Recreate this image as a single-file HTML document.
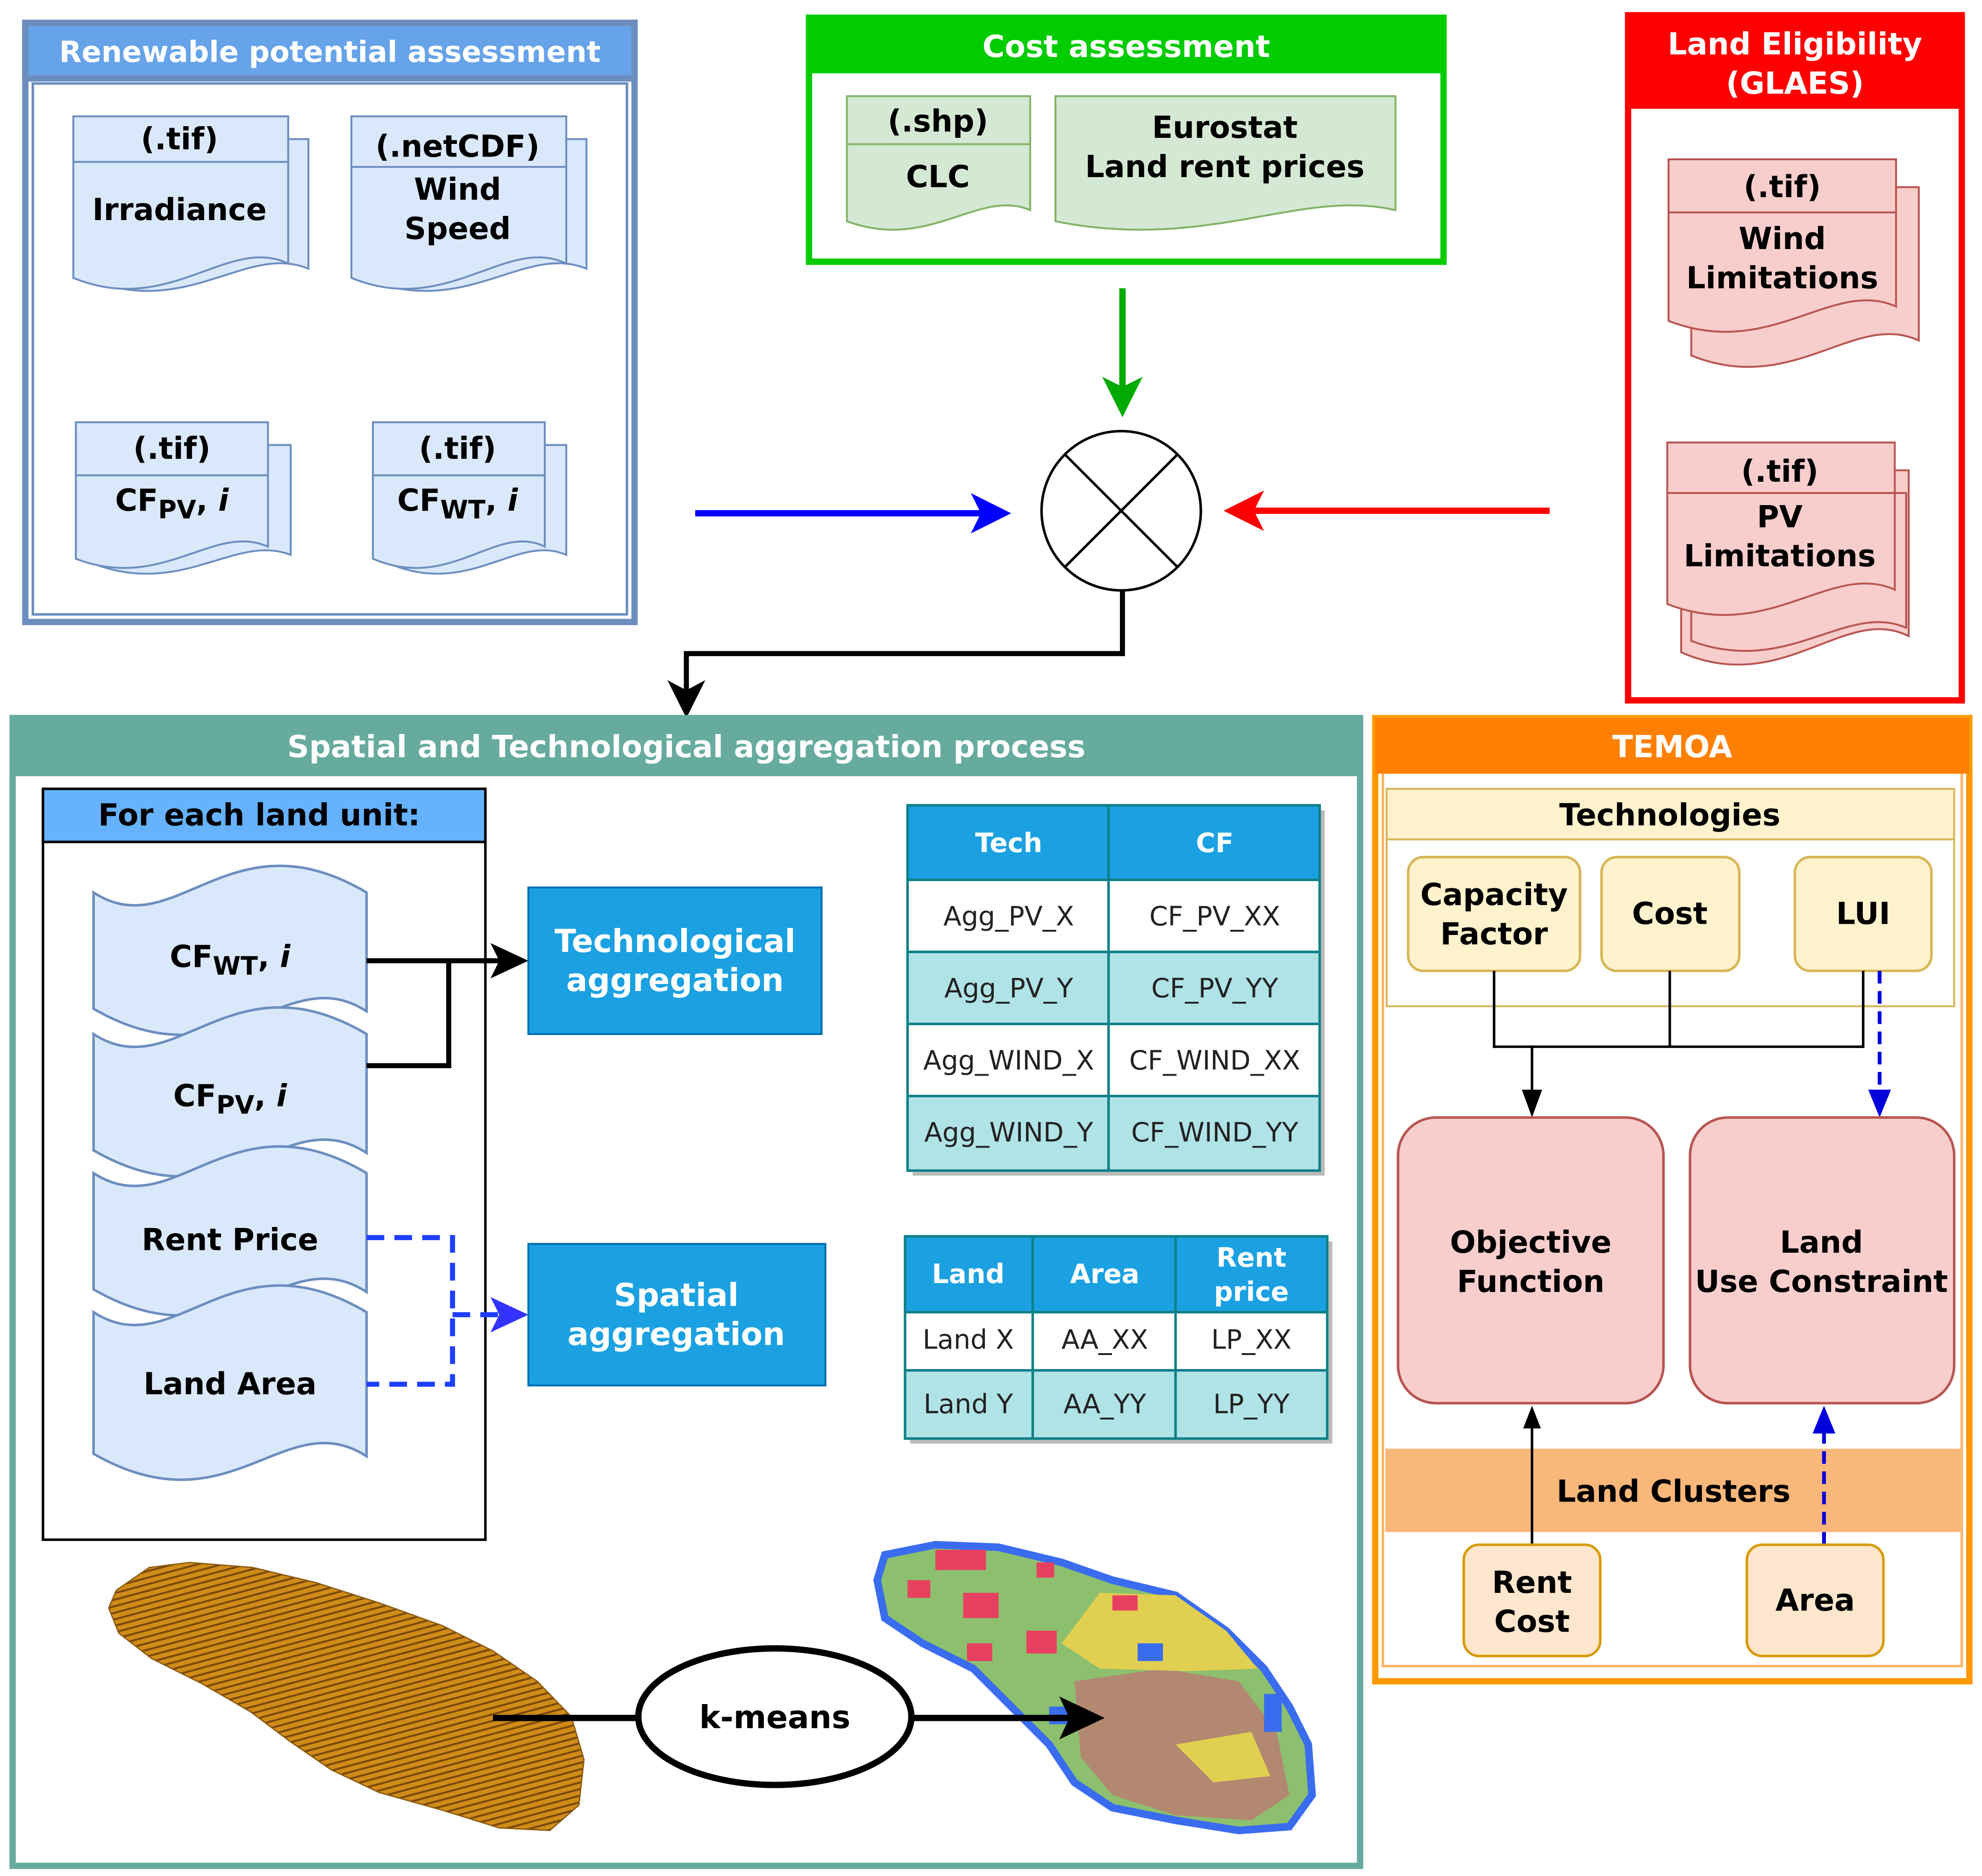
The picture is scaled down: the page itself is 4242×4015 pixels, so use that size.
<!DOCTYPE html>
<html><head><meta charset="utf-8">
<style>
html,body{margin:0;padding:0;background:#fff;}
svg{display:block;}
text{font-family:"DejaVu Sans","Liberation Sans",sans-serif;}
.b{font-weight:bold;}
</style></head>
<body>
<svg id="s" width="4242" height="4015" viewBox="0 0 1568 1484" xmlns="http://www.w3.org/2000/svg">
<defs>
<pattern id="hatch" width="5" height="5" patternUnits="userSpaceOnUse" patternTransform="rotate(75)">
<rect width="5" height="5" fill="#d08c18"/><rect width="1.6" height="5" fill="#7a4a08"/>
</pattern>
</defs>
<rect width="1568" height="1484" fill="#fff"/>

<!-- Renewable box -->
<rect x="20" y="18" width="482" height="474" fill="#fff" stroke="#6c8ebf" stroke-width="5"/>
<rect x="20" y="18" width="482" height="44" fill="#66a3e8" stroke="#6c8ebf" stroke-width="5"/>
<rect x="26" y="66" width="470" height="420" fill="#fff" stroke="#6c8ebf" stroke-width="2"/>
<text x="261" y="49" text-anchor="middle" class="b" font-size="23" fill="#fff">Renewable potential assessment</text>
<g id="docsB" fill="#dae8fc" stroke="#6c8ebf" stroke-width="1.5"></g>
<g font-size="24" class="b" text-anchor="middle" fill="#000">
<text x="142" y="118">(.tif)</text><text x="142" y="174">Irradiance</text>
<text x="362" y="124">(.netCDF)</text><text x="362" y="158">Wind</text><text x="362" y="189">Speed</text>
<text x="136" y="363">(.tif)</text><text x="136" y="404">CF<tspan font-size="20" dy="6">PV</tspan><tspan dy="-6">, </tspan><tspan font-style="italic">i</tspan></text>
<text x="362" y="363">(.tif)</text><text x="362" y="404">CF<tspan font-size="20" dy="6">WT</tspan><tspan dy="-6">, </tspan><tspan font-style="italic">i</tspan></text>
</g>

<!-- Cost box -->
<rect x="640" y="14" width="502" height="193" fill="#fff" stroke="#00cc00" stroke-width="5"/>
<rect x="640" y="14" width="502" height="44" fill="#00cc00"/>
<text x="891" y="45" text-anchor="middle" class="b" font-size="24" fill="#fff">Cost assessment</text>
<g id="docsG" fill="#d5e8d4" stroke="#82b366" stroke-width="1.5"></g>
<g font-size="24" class="b" text-anchor="middle">
<text x="742" y="104">(.shp)</text><text x="742" y="148">CLC</text>
<text x="969" y="109">Eurostat</text><text x="969" y="140">Land rent prices</text>
</g>

<!-- Land eligibility -->
<rect x="1288" y="12" width="264" height="542" fill="#fff" stroke="#ff0000" stroke-width="5"/>
<rect x="1288" y="12" width="264" height="74" fill="#ff0000"/>
<text x="1420" y="43" text-anchor="middle" class="b" font-size="24" fill="#fff">Land Eligibility</text>
<text x="1420" y="74" text-anchor="middle" class="b" font-size="24" fill="#fff">(GLAES)</text>
<g id="docsR" fill="#f8cecc" stroke="#b85450" stroke-width="1.5"></g>
<g font-size="24" class="b" text-anchor="middle">
<text x="1410" y="156">(.tif)</text><text x="1410" y="197">Wind</text><text x="1410" y="228">Limitations</text>
<text x="1408" y="381">(.tif)</text><text x="1408" y="417">PV</text><text x="1408" y="448">Limitations</text>
</g>

<!-- circle & arrows -->
<circle cx="887" cy="404" r="63" fill="#fff" stroke="#000" stroke-width="2"/>
<line x1="842" y1="359" x2="932" y2="449" stroke="#000" stroke-width="2"/>
<line x1="932" y1="359" x2="842" y2="449" stroke="#000" stroke-width="2"/>
<line x1="550" y1="406" x2="780" y2="406" stroke="#0000ff" stroke-width="5"/>
<path d="M768,390 L800,406 L768,422 L776,406Z" fill="#0000ff"/>
<line x1="1226" y1="404" x2="988" y2="404" stroke="#ff0000" stroke-width="5"/>
<path d="M1000,388 L968,404 L1000,420 L992,404Z" fill="#ff0000"/>
<line x1="888" y1="228" x2="888" y2="310" stroke="#00aa00" stroke-width="5"/>
<path d="M872,298 L888,330 L904,298 L888,306Z" fill="#00aa00"/>
<path d="M888,467 V517 H543 V548" fill="none" stroke="#000" stroke-width="4"/>
<path d="M528,538 L543,568 L558,538 L543,546Z" fill="#000"/>

<!-- Spatial & Tech box -->
<rect x="10" y="568" width="1066" height="908" fill="#fff" stroke="#67ab9f" stroke-width="5"/>
<rect x="10" y="568" width="1066" height="46" fill="#67ab9f"/>
<text x="543" y="599" text-anchor="middle" class="b" font-size="24" fill="#fff">Spatial and Technological aggregation process</text>
<rect x="34" y="624" width="350" height="594" fill="#fff" stroke="#000" stroke-width="2"/>
<rect x="34" y="624" width="350" height="42" fill="#66b2ff" stroke="#000" stroke-width="2"/>
<text x="205" y="653" text-anchor="middle" class="b" font-size="24">For each land unit:</text>
<g id="tapes" fill="#dae8fc" stroke="#6c8ebf" stroke-width="2"></g>
<g font-size="24" class="b" text-anchor="middle">
<text x="182" y="765">CF<tspan font-size="20" dy="6">WT</tspan><tspan dy="-6">, </tspan><tspan font-style="italic">i</tspan></text>
<text x="182" y="875">CF<tspan font-size="20" dy="6">PV</tspan><tspan dy="-6">, </tspan><tspan font-style="italic">i</tspan></text>
<text x="182" y="989">Rent Price</text>
<text x="182" y="1103">Land Area</text>
</g>
<path d="M290,760 H396 M290,843 H355 V760" fill="none" stroke="#000" stroke-width="4"/>
<path d="M388,746 L418,760 L388,774 L395,760Z" fill="#000"/>
<path d="M290,979 H358 V1095 H290 M358,1040 H396" fill="none" stroke="#1f3fff" stroke-width="4" stroke-dasharray="14,8"/>
<path d="M388,1026 L418,1040 L388,1054 L395,1040Z" fill="#3333ff"/>
<rect x="418" y="702" width="232" height="116" fill="#1ba1e2" stroke="#006eaf" stroke-width="1.5"/>
<text x="534" y="753" text-anchor="middle" class="b" font-size="25" fill="#fff">Technological</text>
<text x="534" y="784" text-anchor="middle" class="b" font-size="25" fill="#fff">aggregation</text>
<rect x="418" y="984" width="235" height="112" fill="#1ba1e2" stroke="#006eaf" stroke-width="1.5"/>
<text x="535" y="1033" text-anchor="middle" class="b" font-size="25" fill="#fff">Spatial</text>
<text x="535" y="1064" text-anchor="middle" class="b" font-size="25" fill="#fff">aggregation</text>

<!-- table 1 -->
<rect x="722" y="641" width="326" height="289" fill="#bbb"/>
<rect x="718" y="637" width="326" height="59" fill="#1ba1e2"/>
<rect x="718" y="696" width="326" height="57" fill="#fff"/>
<rect x="718" y="753" width="326" height="57" fill="#b0e3e6"/>
<rect x="718" y="810" width="326" height="57" fill="#fff"/>
<rect x="718" y="867" width="326" height="59" fill="#b0e3e6"/>
<g stroke="#0e8088" stroke-width="2" fill="none">
<rect x="718" y="637" width="326" height="289"/>
<path d="M877,637 V926 M718,696 H1044 M718,753 H1044 M718,810 H1044 M718,867 H1044"/>
</g>
<g font-size="21" text-anchor="middle" fill="#222">
<text x="798" y="674" class="b" fill="#fff">Tech</text><text x="961" y="674" class="b" fill="#fff">CF</text>
<text x="798" y="732">Agg_PV_X</text><text x="961" y="732">CF_PV_XX</text>
<text x="798" y="789">Agg_PV_Y</text><text x="961" y="789">CF_PV_YY</text>
<text x="798" y="846">Agg_WIND_X</text><text x="961" y="846">CF_WIND_XX</text>
<text x="798" y="903">Agg_WIND_Y</text><text x="961" y="903">CF_WIND_YY</text>
</g>
<!-- table 2 -->
<rect x="720" y="982" width="334" height="160" fill="#bbb"/>
<rect x="716" y="978" width="334" height="60" fill="#1ba1e2"/>
<rect x="716" y="1038" width="334" height="46" fill="#fff"/>
<rect x="716" y="1084" width="334" height="54" fill="#b0e3e6"/>
<g stroke="#0e8088" stroke-width="2" fill="none">
<rect x="716" y="978" width="334" height="160"/>
<path d="M817,978 V1138 M930,978 V1138 M716,1038 H1050 M716,1084 H1050"/>
</g>
<g font-size="21" text-anchor="middle" fill="#222">
<text x="766" y="1015" class="b" fill="#fff">Land</text><text x="874" y="1015" class="b" fill="#fff">Area</text>
<text x="990" y="1002" class="b" fill="#fff">Rent</text><text x="990" y="1029" class="b" fill="#fff">price</text>
<text x="766" y="1067">Land X</text><text x="874" y="1067">AA_XX</text><text x="990" y="1067">LP_XX</text>
<text x="766" y="1118">Land Y</text><text x="874" y="1118">AA_YY</text><text x="990" y="1118">LP_YY</text>
</g>

<!-- maps -->
<path d="M92,1258 L118,1240 L150,1236 L200,1240 L250,1252 L300,1268 L350,1286 L390,1306 L425,1330 L452,1358 L462,1392 L458,1428 L435,1448 L395,1446 L350,1432 L300,1418 L262,1400 L230,1378 L198,1354 L160,1332 L120,1312 L94,1292 L86,1272 Z" fill="url(#hatch)" stroke="#8a5a10" stroke-width="1"/>
<path d="M700,1230 L740,1222 L790,1224 L840,1236 L880,1250 L930,1262 L970,1290 L1000,1320 L1020,1350 L1035,1380 L1038,1420 L1020,1445 L980,1448 L930,1440 L880,1430 L850,1410 L830,1380 L800,1350 L770,1320 L730,1300 L700,1280 L694,1250 Z" fill="#8cc06e" stroke="#3a6cf0" stroke-width="6"/>
<path d="M850,1330 L920,1320 L980,1330 L1010,1370 L1020,1420 L990,1440 L930,1436 L880,1420 L855,1390 Z" fill="#b38870"/>
<path d="M870,1260 L930,1262 L970,1290 L995,1320 L940,1322 L870,1320 L840,1300 Z" fill="#e0cf50"/>
<path d="M930,1380 L990,1370 L1005,1405 L960,1410 Z" fill="#e0cf50"/>
<g fill="#e84060"><rect x="740" y="1226" width="40" height="16"/><rect x="762" y="1260" width="28" height="20"/><rect x="718" y="1250" width="18" height="14"/><rect x="812" y="1290" width="24" height="18"/><rect x="765" y="1300" width="20" height="14"/><rect x="880" y="1262" width="20" height="12"/><rect x="820" y="1236" width="14" height="12"/></g>
<g fill="#3a6cf0"><rect x="900" y="1300" width="20" height="14"/><rect x="1000" y="1340" width="14" height="30"/><rect x="830" y="1350" width="16" height="14"/></g>
<line x1="390" y1="1359" x2="506" y2="1359" stroke="#000" stroke-width="5"/>
<line x1="720" y1="1359" x2="850" y2="1359" stroke="#000" stroke-width="5"/>
<path d="M838,1342 L874,1359 L838,1376 L846,1359Z" fill="#000"/>
<ellipse cx="613" cy="1358" rx="108" ry="54" fill="#fff" stroke="#000" stroke-width="5"/>
<text x="613" y="1367" text-anchor="middle" class="b" font-size="25">k-means</text>

<!-- TEMOA -->
<rect x="1088" y="568" width="470" height="762" fill="#fff" stroke="#ff9900" stroke-width="5"/>
<rect x="1094" y="574" width="458" height="744" fill="none" stroke="#ffb366" stroke-width="2"/>
<rect x="1088" y="568" width="470" height="44" fill="#ff8000"/>
<text x="1323" y="599" text-anchor="middle" class="b" font-size="24" fill="#fff">TEMOA</text>
<rect x="1097" y="624" width="449" height="172" fill="#fff" stroke="#d6b656" stroke-width="1.5"/>
<rect x="1097" y="624" width="449" height="40" fill="#fff2cc" stroke="#d6b656" stroke-width="1.5"/>
<text x="1321" y="653" text-anchor="middle" class="b" font-size="24">Technologies</text>
<g fill="#fff2cc" stroke="#d6b656" stroke-width="2">
<rect x="1114" y="678" width="136" height="90" rx="12"/>
<rect x="1267" y="678" width="109" height="90" rx="12"/>
<rect x="1420" y="678" width="108" height="90" rx="12"/>
</g>
<g font-size="24" class="b" text-anchor="middle">
<text x="1182" y="716">Capacity</text><text x="1182" y="747">Factor</text>
<text x="1321" y="731">Cost</text><text x="1474" y="731">LUI</text>
</g>
<path d="M1182,768 V828 H1474 V768 M1321,768 V828 M1212,828 V866" fill="none" stroke="#000" stroke-width="2"/>
<path d="M1204,862 L1212,884 L1220,862Z" fill="#000"/>
<path d="M1487,768 V866" stroke="#0000dd" stroke-width="3" stroke-dasharray="10,6"/>
<path d="M1478,862 L1487,884 L1496,862Z" fill="#0000dd"/>
<rect x="1106" y="884" width="210" height="226" rx="30" fill="#f8cecc" stroke="#b85450" stroke-width="2"/>
<rect x="1337" y="884" width="209" height="226" rx="30" fill="#f8cecc" stroke="#b85450" stroke-width="2"/>
<g font-size="24" class="b" text-anchor="middle">
<text x="1211" y="991">Objective</text><text x="1211" y="1022">Function</text>
<text x="1441" y="991">Land</text><text x="1441" y="1022">Use Constraint</text>
</g>
<rect x="1096" y="1146" width="456" height="66" fill="#fab77a"/>
<text x="1324" y="1188" text-anchor="middle" class="b" font-size="24">Land Clusters</text>
<path d="M1212,1222 V1128" stroke="#000" stroke-width="2"/>
<path d="M1205,1130 L1212,1112 L1219,1130Z" fill="#000"/>
<path d="M1443,1222 V1132" stroke="#0000dd" stroke-width="3" stroke-dasharray="10,6"/>
<path d="M1434,1134 L1443,1112 L1452,1134Z" fill="#0000dd"/>
<rect x="1158" y="1222" width="108" height="88" rx="12" fill="#ffe6cc" stroke="#d79b00" stroke-width="2"/>
<rect x="1382" y="1222" width="108" height="88" rx="12" fill="#ffe6cc" stroke="#d79b00" stroke-width="2"/>
<g font-size="24" class="b" text-anchor="middle">
<text x="1212" y="1260">Rent</text><text x="1212" y="1291">Cost</text>
<text x="1436" y="1274">Area</text>
</g>
</svg>
<script>
function doc(x,y,w,h){return "M"+x+","+y+" H"+(x+w)+" V"+(y+h*0.82)+" C"+(x+w*0.72)+","+(y+h*0.66)+" "+(x+w*0.45)+","+(y+h*1.12)+" "+x+","+(y+h*0.9)+" Z";}
function put(g,arr){var el=document.getElementById(g),s="";arr.forEach(function(a){s+='<path d="'+doc(a[0],a[1],a[2],a[3])+'"/>';if(a[4])s+='<line x1="'+a[0]+'" y1="'+a[4]+'" x2="'+(a[0]+a[2])+'" y2="'+a[4]+'"/>';});el.innerHTML=s;}
put("docsB",[[74,110,170,125],[58,92,170,142,128],[294,110,170,125],[278,92,170,142,132],[78,352,152,106],[60,334,152,120,376],[312,352,136,106],[295,334,136,120,376]]);
put("docsG",[[670,76,145,110,114],[835,76,269,110]]);
put("docsR",[[1338,148,180,148],[1320,126,180,142,168],[1330,372,180,160],[1338,390,170,130],[1319,350,180,142,390]]);
function tape(x,y,w,h){return "M"+x+","+(y+30)+" C"+(x+w*0.3)+","+(y+72)+" "+(x+w*0.5)+","+(y-34)+" "+(x+w)+","+(y+30)+" V"+(y+h-28)+" C"+(x+w*0.7)+","+(y+h-70)+" "+(x+w*0.5)+","+(y+h+32)+" "+x+","+(y+h-30)+" Z";}
var t="";[[676,152],[788,152],[898,152],[1008,172]].forEach(function(a){t+='<path d="'+tape(74,a[0],216,a[1])+'"/>';});
document.getElementById("tapes").innerHTML=t;
</script>
</body></html>
